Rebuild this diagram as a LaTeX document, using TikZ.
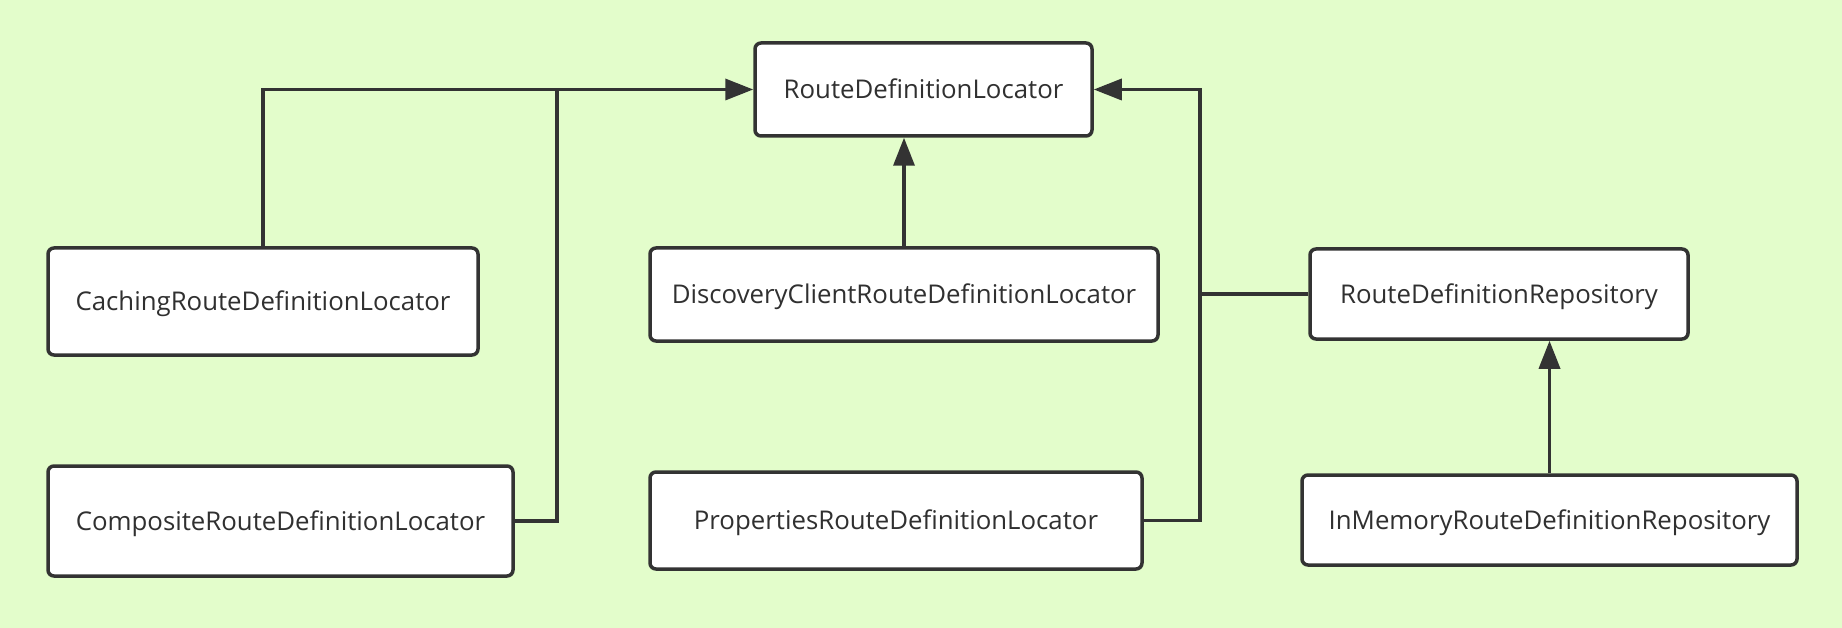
\documentclass[tikz,border=0pt]{standalone}
\usepackage{fontspec}
\setmainfont{Open Sans}
\usetikzlibrary{arrows.meta}
\definecolor{bgc}{HTML}{E3FDCB}
\definecolor{linec}{HTML}{333333}
\definecolor{textc}{HTML}{303030}
\begin{document}
\begin{tikzpicture}[x=1pt,y=-1pt,
  box/.style={draw=linec, line width=3.5pt, fill=white, rounded corners=6pt, inner sep=0pt,
    font=\fontsize{25.8}{30}\selectfont, text=textc, text height=18.4pt, text depth=0pt},
  conn/.style={draw=linec, line width=3.5pt},
  arr/.style={conn, -{Triangle[length=28pt,width=21pt]}}]
\fill[bgc] (0,0) rectangle (1842,628);
\useasboundingbox (0,0) rectangle (1842,628);
\node[box, minimum width=337pt, minimum height=93pt] (rdl) at (923.5,89.5) {RouteDefinitionLocator};
\node[box, minimum width=430pt, minimum height=107pt] (cach) at (263,301.5) {CachingRouteDefinitionLocator};
\node[box, minimum width=465pt, minimum height=110pt] (comp) at (280.5,521) {CompositeRouteDefinitionLocator};
\node[box, minimum width=508pt, minimum height=93pt] (disc) at (904,294.5) {DiscoveryClientRouteDefinitionLocator};
\node[box, minimum width=492pt, minimum height=97pt] (prop) at (896,520.5) {PropertiesRouteDefinitionLocator};
\node[box, minimum width=378pt, minimum height=90pt] (repo) at (1499,294) {RouteDefinitionRepository};
\node[box, minimum width=495pt, minimum height=90pt] (inmem) at (1549.5,520) {InMemoryRouteDefinitionRepository};
\coordinate (j1) at (557,89.5);
\coordinate (j2) at (1200,89.5);
\draw[conn] (comp.east) -| (j1);
\draw[arr] (cach.north) |- (rdl.west);
\draw[arr] (disc.north) -- (disc.north |- rdl.south);
\draw[arr] (prop.east) -| (j2) -- (rdl.east);
\draw[conn] (repo.west) -- (repo.west -| j2);
\draw[arr] (inmem.north) -- (inmem.north |- repo.south);
\end{tikzpicture}
\end{document}
